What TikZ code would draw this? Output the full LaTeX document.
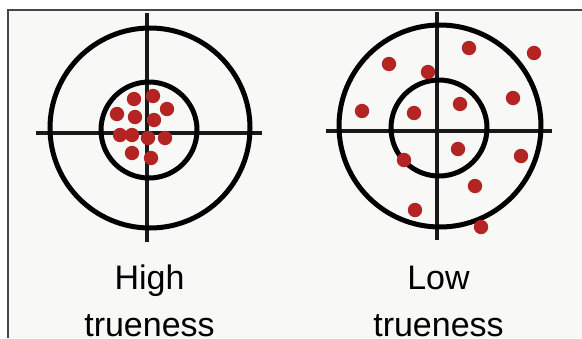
\documentclass[tikz,border=0pt]{standalone}
\usepackage{fontspec}
\setmainfont{Liberation Sans}
\usepackage{tikz}
\usetikzlibrary{positioning}

\definecolor{paper}{RGB}{248,248,246}
\definecolor{frameline}{RGB}{70,70,70}
\definecolor{shotred}{RGB}{180,36,34}

\begin{document}
\begin{tikzpicture}[
        x=1pt, y=-1pt,
        ring/.style={draw=black, line width=5pt},
        hair/.style={draw=black!90, line width=3.8pt},
        shot/.style={fill=shotred},
        caption/.style={anchor=base, inner sep=0pt, font=\fontsize{34}{40}\selectfont}
    ]
        % Frame and background
        \useasboundingbox (0,0) rectangle (582,338);
        \fill[white] (0,0) rectangle (582,338);
        \fill[paper] (8,10) rectangle (582,338);
        \draw[frameline, line width=1.6pt] (8,338) -- (8,10) -- (582,10);

        % Left target
        \coordinate (hiouter) at (150,128);
        \coordinate (hiinner) at (149,130);
        \draw[hair] (36,133) -- (262,133);
        \draw[hair] (147,13) -- (147,242);
        \draw[ring] (hiouter) circle[radius=100];
        \draw[ring] (hiinner) circle[radius=48];
        \foreach \px/\py in {134/99, 153/96, 167/109, 117/114, 135/117, 154/120,
                             120/135, 132/135, 148/138, 165/138, 132/153, 151/158}
            \fill[shot] (\px,\py) circle[radius=7.2];

        % Right target
        \coordinate (loouter) at (440,126);
        \coordinate (loinner) at (439,128);
        \draw[hair] (326,131) -- (552,131);
        \draw[hair] (437,12) -- (437,240);
        \draw[ring] (loouter) circle[radius=101];
        \draw[ring] (loinner) circle[radius=48];
        \foreach \px/\py in {469/48, 534/53, 389/64, 428/72, 513/98, 460/104, 362/111,
                             414/113, 458/149, 404/160, 521/156, 475/186, 415/210, 481/227}
            \fill[shot] (\px,\py) circle[radius=7.2];

        % Captions
        \node[caption] (hiword) at (149.5,289) {High};
        \node[caption, below=47pt of hiword.base, anchor=base] (hitrue) {trueness};
        \node[caption] (loword) at (438.5,289) {Low};
        \node[caption, below=47pt of loword.base, anchor=base] (lotrue) {trueness};
    \end{tikzpicture}
\end{document}
